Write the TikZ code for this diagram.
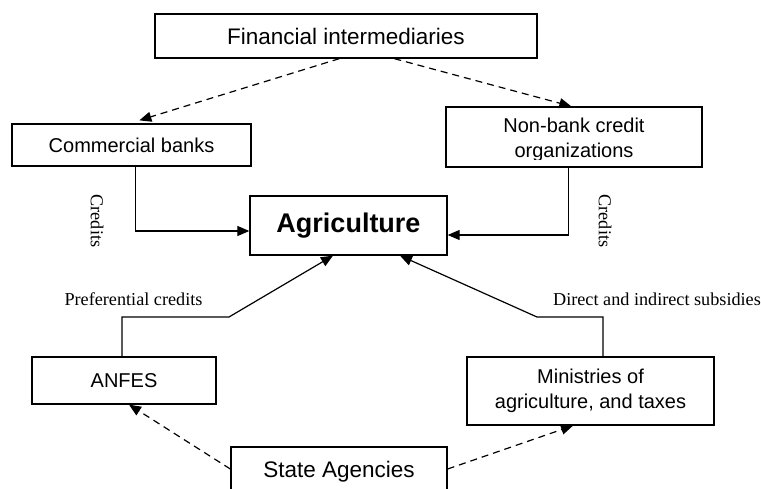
\documentclass[tikz,border=0pt]{standalone}
\usepackage{fontspec}
\setmainfont{Liberation Serif}
\newfontfamily\arialfont{Liberation Sans}
\usetikzlibrary{arrows.meta,calc}
\begin{document}
\begin{tikzpicture}[x=1pt,y=-1pt,
  box/.style={draw,line width=1.3pt,inner sep=0pt,align=center,
    font=\arialfont\fontsize{20}{24.5}\selectfont},
  bigbox/.style={box,font=\arialfont\fontsize{22.5}{27}\selectfont},
  flow/.style={line width=1.2pt,-{Triangle[length=12pt,width=10pt]}},
  dflow/.style={flow,dash pattern=on 7pt off 5pt},
  lab/.style={font=\fontsize{18.2}{20}\selectfont,inner sep=0pt}]
\useasboundingbox (0,0) rectangle (761,488);
% boxes
\node[bigbox,minimum width=382pt,minimum height=44pt] (FI) at (346,36) {Financial intermediaries};
\node[box,minimum width=239pt,minimum height=42pt] (CB) at (131.5,145) {Commercial banks};
\node[box,minimum width=256pt,minimum height=60pt] (NB) at (574,137) {};
\begin{scope}
  \clip (446,107) rectangle (702,159);
  \node[box,draw=none] (NBt) at (574,140) {Non-bank credit\\organizations};
\end{scope}
\node[box,minimum width=197pt,minimum height=59pt,
  font=\arialfont\bfseries\fontsize{27}{32}\selectfont] (AG) at (348.5,225.5) {Agriculture};
\node[box,minimum width=184pt,minimum height=47pt] (AN) at (124,380.5) {ANFES};
\node[box,minimum width=247pt,minimum height=68pt] (MI) at (590.5,391) {Ministries of\\agriculture, and taxes};
\node[bigbox,minimum width=216pt,minimum height=50pt] (SA) at (339,472) {State Agencies};
% labels
\node[lab,rotate=-90] (cr1) at (97,221) {Credits};
\node[lab,rotate=-90] (cr2) at (605,221) {Credits};
\node[lab] (pc) at (133.5,299) {Preferential credits};
\node[lab] (ds) at (657,299) {Direct and indirect subsidies};
% bend points
\coordinate (a1) at (122,317);
\coordinate (a2) at (229,317);
\coordinate (m1) at (603,317);
\coordinate (m2) at (537,317);
% connectors
\draw[dflow] ([xshift=185pt]FI.south west) -- ([xshift=128pt,yshift=3pt]CB.north west);
\draw[dflow] ([xshift=240pt]FI.south west) -- ([xshift=126pt]NB.north west);
\draw[flow] ([xshift=124pt]CB.south west) |- ([yshift=-5.5pt]AG.west);
\draw[flow] ([xshift=123pt]NB.south west) |- ([yshift=-9.5pt]AG.east);
\draw[flow] (AN.north -| a1) -- (a1) -- (a2) -- ([xshift=-15.5pt]AG.south);
\draw[flow] (MI.north -| m1) -- (m1) -- (m2) -- ([xshift=51.5pt]AG.south);
\draw[dflow] ([yshift=3pt]SA.west) -- ([xshift=5pt]AN.south);
\draw[dflow] ([yshift=3pt]SA.east) -- ([xshift=-17.5pt]MI.south);
\end{tikzpicture}
\end{document}
